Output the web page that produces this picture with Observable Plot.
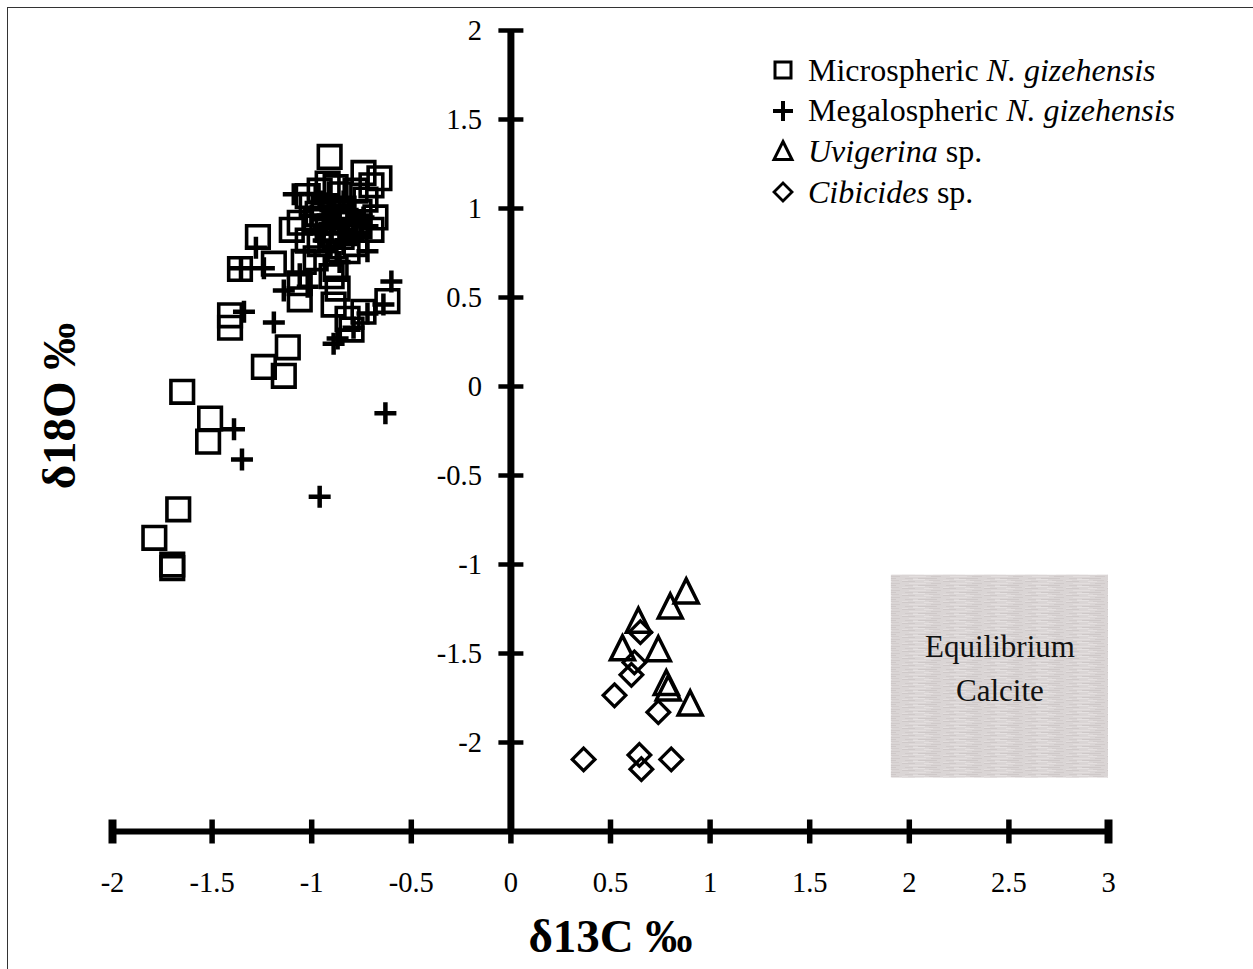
<!DOCTYPE html>
<html><head><meta charset="utf-8">
<script src="https://cdn.jsdelivr.net/npm/d3@7"></script>
<script src="https://cdn.jsdelivr.net/npm/@observablehq/plot@0.6"></script>
<style>
body{margin:0;background:#fff;}
#wrap{position:relative;width:1253px;height:969px;overflow:hidden;font-family:"Liberation Serif","Times New Roman",serif;background:#fff;}
#frame{position:absolute;left:7px;top:7px;right:-10px;bottom:-10px;border-left:1.5px solid #333;border-top:1.5px solid #333;pointer-events:none;}
#legend{position:absolute;left:772px;top:50px;font-size:32px;color:#000;}
.row{display:flex;align-items:center;height:40.6px;white-space:nowrap}
.row svg{width:22px;height:22px;margin-right:14px;flex:none;overflow:visible}
#chart{position:absolute;left:0;top:0;}
</style></head>
<body><div id="wrap"><div id="chart"></div><div id="frame"></div><div id="legend"></div></div>
<script>
// ---- data (δ13C ‰, δ18O ‰) ----
const microspheric = [
  [-0.91, 1.29], [-0.74, 1.20], [-0.66, 1.17], [-0.70, 1.13], [-0.92, 1.14], [-0.96, 1.10],
  [-0.86, 1.08], [-0.78, 1.10], [-1.00, 1.02], [-0.94, 1.00], [-0.84, 1.00], [-0.76, 0.98],
  [-0.68, 0.95], [-0.70, 0.88], [-0.88, 0.95], [-0.98, 0.93], [-1.10, 0.88], [-1.27, 0.84],
  [-0.80, 0.88], [-0.90, 0.85], [-1.02, 0.82], [-0.82, 0.76], [-0.98, 0.72], [-1.04, 0.70],
  [-1.19, 0.69], [-1.36, 0.66], [-0.88, 0.66], [-0.90, 0.62], [-1.06, 0.58], [-0.87, 0.55],
  [-1.06, 0.49], [-0.89, 0.46], [-0.62, 0.48], [-0.74, 0.42], [-0.82, 0.38], [-0.80, 0.32],
  [-1.41, 0.40], [-1.41, 0.33], [-1.12, 0.22], [-1.24, 0.11], [-1.14, 0.06], [-1.65, -0.03],
  [-1.51, -0.18], [-1.52, -0.31], [-1.67, -0.69], [-1.79, -0.85], [-1.70, -1.00], [-1.70, -1.02],
  [-0.97, 0.97], [-0.83, 0.93], [-0.76, 0.90], [-0.92, 0.88], [-0.85, 0.84], [-0.96, 0.80],
  [-0.78, 0.80], [-1.06, 0.92], [-0.73, 1.05], [-1.02, 1.07], [-0.88, 1.12]
];
const megalospheric = [
  [-1.09, 1.08], [-0.98, 1.08], [-0.95, 1.04], [-0.90, 1.01], [-0.84, 1.04], [-0.80, 0.98],
  [-0.74, 0.95], [-0.72, 0.90], [-0.86, 0.92], [-0.94, 0.90], [-1.00, 0.96], [-0.78, 0.85],
  [-0.84, 0.80], [-0.72, 0.76], [-0.92, 0.76], [-0.94, 0.82], [-1.28, 0.78], [-1.355, 0.665],
  [-1.24, 0.665], [-1.06, 0.63], [-1.02, 0.56], [-1.14, 0.54], [-0.60, 0.59], [-0.64, 0.46],
  [-0.72, 0.41], [-0.79, 0.33], [-0.87, 0.27], [-0.89, 0.24], [-1.34, 0.42], [-1.19, 0.36],
  [-1.39, -0.24], [-1.35, -0.41], [-0.63, -0.15], [-0.96, -0.62],
  [-0.86, 0.98], [-0.92, 0.96], [-0.78, 0.93], [-0.90, 0.86], [-0.82, 0.88], [-0.96, 0.86], [-0.86, 0.70]
];
const uvigerina = [
  [0.88, -1.155], [0.80, -1.24], [0.64, -1.32], [0.56, -1.475], [0.74, -1.48],
  [0.78, -1.67], [0.79, -1.70], [0.90, -1.785]
];
const cibicides = [
  [0.65, -1.38], [0.62, -1.55], [0.605, -1.62], [0.52, -1.735], [0.74, -1.83],
  [0.365, -2.095], [0.645, -2.07], [0.655, -2.15], [0.805, -2.095]
];
const xDomain = [-2, 3];
const yDomain = [-2.5, 2];
const xTicks = [-2, -1.5, -1, -0.5, 0, 0.5, 1, 1.5, 2, 2.5, 3];
const xTickLabels = ["-2", "-1.5", "-1", "-0.5", "0", "0.5", "1", "1.5", "2", "2.5", "3"];
const yTicks = [-2, -1.5, -1, -0.5, 0, 0.5, 1, 1.5, 2];
const yTickLabels = ["-2", "-1.5", "-1", "-0.5", "0", "0.5", "1", "1.5", "2"];
const calciteBox = [{x1: 1.91, x2: 3.0, y1: -2.2, y2: -1.06, label: "Equilibrium\nCalcite"}];
const legendItems = [
  {sym: "square", html: "Microspheric <i>N. gizehensis</i>"},
  {sym: "plus", html: "Megalospheric <i>N. gizehensis</i>"},
  {sym: "triangle", html: "<i>Uvigerina</i> sp."},
  {sym: "diamond", html: "<i>Cibicides</i> sp."}
];
const xTitle = "δ13C ‰";
const yTitle = "δ18O ‰";

// ---- custom symbols ----
const rad = s => Math.sqrt(s / Math.PI);
const symSquare = {draw(c, s) { const r = rad(s); c.moveTo(-r, -r); c.lineTo(r, -r); c.lineTo(r, r); c.lineTo(-r, r); c.closePath(); }};
const symPlus = {draw(c, s) { const r = rad(s); c.moveTo(-r, 0); c.lineTo(r, 0); c.moveTo(0, -r); c.lineTo(0, r); }};
const symTri = {draw(c, s) { const r = rad(s); c.moveTo(0, -1.1 * r); c.lineTo(r, 0.9 * r); c.lineTo(-r, 0.9 * r); c.closePath(); }};
const symDia = {draw(c, s) { const r = rad(s); c.moveTo(0, -r); c.lineTo(r, 0); c.lineTo(0, r); c.lineTo(-r, 0); c.closePath(); }};
const symH = {draw(c, s) { const r = rad(s); c.moveTo(-r, 0); c.lineTo(r, 0); }};
const symV = {draw(c, s) { const r = rad(s); c.moveTo(0, -r); c.lineTo(0, r); }};

const serif = "Liberation Serif, Times New Roman, serif";
const px = d => d[0], py = d => d[1];

const chart = Plot.plot({
  width: 1253, height: 969,
  marginLeft: 112, marginRight: 145, marginTop: 30, marginBottom: 138,
  x: {domain: xDomain, axis: null},
  y: {domain: yDomain, axis: null},
  style: {fontFamily: serif, background: "transparent", overflow: "visible", color: "#000"},
  marks: [
    Plot.rect(calciteBox, {x1: "x1", x2: "x2", y1: "y1", y2: "y2", fill: "url(#calciteTex)"}),
    Plot.text(calciteBox, {x: d => (d.x1 + d.x2) / 2, y: d => (d.y1 + d.y2) / 2, text: "label",
      fontSize: 31, lineHeight: 1.42, dy: -12, fill: "#111"}),
    // axes
    Plot.ruleX([0], {y1: yDomain[0], y2: yDomain[1], stroke: "#000", strokeWidth: 7}),
    Plot.ruleY([yDomain[0]], {x1: xDomain[0], x2: xDomain[1], stroke: "#000", strokeWidth: 6}),
    Plot.dot(yTicks, {x: 0, y: d => d, symbol: symH, r: 12.5, stroke: "#000", strokeWidth: 4.5, fill: "none"}),
    Plot.dot(xTicks, {x: d => d, y: yDomain[0], symbol: symV, r: 12, stroke: "#000",
      strokeWidth: d => (d === xDomain[0] || d === xDomain[1]) ? 8 : 5.5, fill: "none"}),
    Plot.text(yTicks, {x: 0, y: d => d, text: (d, i) => yTickLabels[i], dx: -29, textAnchor: "end", fontSize: 28.5}),
    Plot.text(xTicks, {x: d => d, y: yDomain[0], text: (d, i) => xTickLabels[i], dy: 51, fontSize: 28.5}),
    Plot.text([xTitle], {frameAnchor: "bottom", text: d => d, dy: 105, lineAnchor: "middle", textAnchor: "middle",
      fontSize: 47, fontWeight: "bold"}),
    Plot.text([yTitle], {frameAnchor: "left", text: d => d, dx: -53, dy: -25, rotate: -90, textAnchor: "middle",
      lineAnchor: "middle", fontSize: 47, fontWeight: "bold"}),
    // data
    Plot.dot(microspheric, {x: px, y: py, symbol: symSquare, r: 11.3, stroke: "#000", strokeWidth: 3.6, fill: "none", strokeLinejoin: "miter"}),
    Plot.dot(megalospheric, {x: px, y: py, symbol: symPlus, r: 11, stroke: "#000", strokeWidth: 4.5, fill: "none"}),
    Plot.dot(uvigerina, {x: px, y: py, symbol: symTri, r: 12, stroke: "#000", strokeWidth: 3.5, fill: "none", strokeLinejoin: "miter"}),
    Plot.dot(cibicides, {x: px, y: py, symbol: symDia, r: 11.3, stroke: "#000", strokeWidth: 3.3, fill: "none", strokeLinejoin: "miter"})
  ]
});

// texture for the equilibrium calcite box (fine horizontal streaks)
chart.insertAdjacentHTML("afterbegin",
  `<defs><pattern id="calciteTex" patternUnits="userSpaceOnUse" width="41" height="7">
     <rect width="41" height="7" fill="#dad5d5"/>
     <rect x="0" y="0" width="13" height="1" fill="#cfc9c9"/>
     <rect x="22" y="0" width="9" height="1" fill="#e4dfdf"/>
     <rect x="7" y="2" width="17" height="1" fill="#e3dede"/>
     <rect x="29" y="2" width="10" height="1" fill="#d0caca"/>
     <rect x="3" y="4" width="8" height="1" fill="#d1cbcb"/>
     <rect x="16" y="4" width="19" height="1" fill="#cec8c8"/>
     <rect x="11" y="5" width="12" height="1" fill="#e5e1e1"/>
     <rect x="27" y="6" width="11" height="1" fill="#d2cccc"/>
     <rect x="0" y="6" width="6" height="1" fill="#e2dddd"/>
   </pattern></defs>`);
document.getElementById("chart").appendChild(chart);

// legend
const legendPaths = {
  square: '<path d="M3,3H19V19H3Z" fill="none" stroke="#000" stroke-width="3"/>',
  plus: '<path d="M1,11H21M11,1V21" fill="none" stroke="#000" stroke-width="4"/>',
  triangle: '<path d="M11,1.5L20,19.5H2Z" fill="none" stroke="#000" stroke-width="3" stroke-linejoin="miter"/>',
  diamond: '<path d="M11,2L20,11L11,20L2,11Z" fill="none" stroke="#000" stroke-width="2.8"/>'
};
const legend = document.getElementById("legend");
for (const item of legendItems) {
  const row = document.createElement("div");
  row.className = "row";
  row.innerHTML = `<svg viewBox="0 0 22 22">${legendPaths[item.sym]}</svg><span>${item.html}</span>`;
  legend.appendChild(row);
}
</script></body></html>
